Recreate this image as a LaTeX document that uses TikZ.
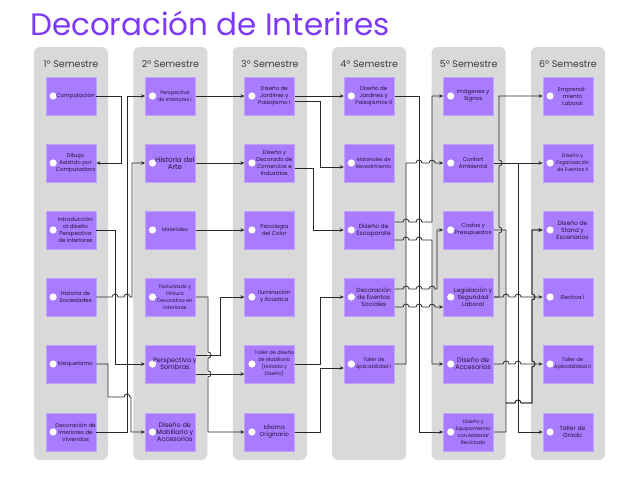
\documentclass[tikz,border=0pt]{standalone}
\usepackage{fontspec}
\setmainfont{Poppins}
\usetikzlibrary{arrows.meta}
\definecolor{titlec}{RGB}{124,58,246}
\definecolor{cardc}{RGB}{168,123,255}
\definecolor{cardb}{RGB}{192,162,255}
\definecolor{panelc}{RGB}{217,217,217}
\definecolor{linec}{RGB}{40,40,40}
\definecolor{txtc}{RGB}{35,20,55}
\definecolor{headc}{RGB}{60,60,60}
\newcommand\hopR[2]{-- ({#1-3},#2) arc[start angle=180,end angle=0,radius=3pt]}
\newcommand\hopD[2]{-- (#1,{#2-3}) arc[start angle=90,end angle=-90,radius=3pt]}
\newcommand\hopU[2]{-- (#1,{#2+3}) arc[start angle=-90,end angle=90,radius=3pt]}
\tikzset{
  panel/.style={fill=panelc, rounded corners=6pt, minimum width=74pt, minimum height=413pt, inner sep=0},
  head/.style={text=headc, font=\fontsize{9.5}{10}\selectfont, inner sep=0},
  card/.style={fill=cardc, draw=cardb, line width=0.8pt, minimum width=50pt, minimum height=38pt, inner sep=0},
  ctext/.style={text=txtc, align=center, inner sep=0},
  conn/.style={draw=linec, line width=0.8pt, -{Stealth[length=4pt,width=3.5pt]}},
}
% col, row, y, size, text
\newcommand\card[5]{%
  \node[card] (c#1#2) at ({71+99.4*(#1-1)},#3) {};
  \fill[white] ([xshift=7.5pt]c#1#2.west) circle (3.6pt);
  \node[ctext, font=\fontsize{#4}{7}\selectfont] (t#1#2) at ([xshift=4.5pt]c#1#2.center) {#5};
}
\begin{document}
\begin{tikzpicture}[x=1pt,y=-1pt]
\useasboundingbox (0,0) rectangle (640,480);
\fill[white] (0,0) rectangle (640,480);
\node[anchor=base west, text=titlec, font=\fontsize{31}{32}\selectfont, inner sep=0] (title) at (30,35) {Decoración de Interires};
\foreach \i in {1,...,6}{
  \node[panel] (p\i) at ({71+99.4*(\i-1)},253.5) {};
  \node[head] (h\i) at ({71+99.4*(\i-1)},64) {\i º Semestre};
}
% column 1
\card{1}{1}{96}{5.5}{Computación}
\card{1}{2}{163}{5.5}{Dibujo\\Asistido por\\Computadora}
\card{1}{3}{230}{5.5}{Introducción\\al diseño\\Perspectiva\\de Interiores}
\card{1}{4}{297}{5.5}{Historia de\\Sociedades}
\card{1}{5}{364}{5.5}{Maquetismo}
\card{1}{6}{432}{5.5}{Decoración de\\Interiores de\\Viviendas}
% column 2
\card{2}{1}{96}{5}{Perspectiva\\de Interiores I}
\card{2}{2}{163}{7}{Historia del\\Arte}
\card{2}{3}{230}{5}{Materiales}
\card{2}{4}{297}{5}{Texturizado y\\Pintura\\Decorativa en\\Interiores}
\card{2}{5}{364}{6.5}{Perspectiva y\\Sombras}
\card{2}{6}{432}{6.5}{Diseño de\\Mobiliario y\\Accesorios}
% column 3
\card{3}{1}{96}{5.5}{Diseño de\\Jardines y\\Paisajismo I}
\card{3}{2}{163}{5.5}{Diseño y\\Decorado de\\Comercios e\\Industrias}
\card{3}{3}{230}{5.5}{Psicología\\del Color}
\card{3}{4}{297}{5.5}{Iluminación\\y Acústica}
\card{3}{5}{364}{5}{Taller de diseño\\de Mobiliario\\(Historia y\\Diseño)}
\card{3}{6}{432}{6}{Idioma\\Originario}
% column 4
\card{4}{1}{96}{5.5}{Diseño de\\Jardines y\\Paisajismos II}
\card{4}{2}{163}{5}{Materiales de\\Revestimiento}
\card{4}{3}{230}{6}{Diseño de\\Escaparate}
\card{4}{4}{297}{6}{Decoración\\de Eventos\\Sociales}
\card{4}{5}{364}{5}{Taller de\\Aplicabilidad I}
% column 5
\card{5}{1}{96}{5.5}{Imágenes y\\Signos}
\card{5}{2}{163}{5.5}{Confort\\Ambiental}
\card{5}{3}{230}{5.5}{Costos y\\Presupuestos}
\card{5}{4}{297}{6}{Legislación y\\Seguridad\\Laboral}
\card{5}{5}{364}{6.5}{Diseño de\\Accesorios}
\card{5}{6}{432}{5}{Diseño y\\Equipamiento\\con \textit{Material}\\Reciclado}
% column 6
\card{6}{1}{96}{5.5}{Emprendi-\\miento\\Laboral}
\card{6}{2}{163}{5}{Diseño y\\Organización\\de Eventos II}
\card{6}{3}{230}{6}{Diseño de\\Stand y\\Escenarios}
\card{6}{4}{297}{5.5}{Electiva I}
\card{6}{5}{364}{5}{Taller de\\Aplicabilidad II}
\card{6}{6}{432}{6}{Taller de\\Grado}
% connectors col1 -> col2
\draw[conn] (c11.east) -- (121,96) -- (121,163) -- (c12.east);
\draw[conn] (c13.east) -- (115,230) -- (115,364) -- (c25.west);
\draw[conn] (c14.east) \hopR{115}{297} \hopR{127}{297} -- (132,297) -- (132,163) -- (c22.west);
\draw[conn] (c15.east) -- (108,364) -- (108,397) \hopR{127}{397} -- (131,397) -- (131,432) -- (c26.west);
\draw[conn] (c16.east) -- (127,432) -- (127,96) -- (c21.west);
% col2 -> col3
\draw[conn] (c21.east) -- (c31.west);
\draw[conn] (c22.east) -- (c32.west);
\draw[conn] (c23.east) -- (c33.west);
\draw[conn] (c24.east) -- (208,297) \hopD{208}{355} \hopD{208}{374} -- (208,432) -- (c36.west);
\draw[conn] ([yshift=9pt]c25.east) -- (220,355) -- (220,297) -- (c34.west);
\draw[conn] ([yshift=-10pt]c25.east) -- ([yshift=-10pt]c35.west);
% col3 -> col4
\draw[conn] (c31.east) -- (c41.west);
\draw[conn] ([yshift=-5pt]c31.east) -- (320,101) -- (320,167) -- ([yshift=-4pt]c42.west);
\draw[conn] ([yshift=-5pt]c32.east) -- (313,168) -- (313,230) -- (c43.west);
\draw[conn] (c35.east) -- (320,364) -- (320,297) -- (c44.west);
\draw[conn] (c36.east) -- (320,432) -- (320,368) -- ([yshift=-4pt]c45.west);
% col4 -> col5
\draw[conn] (c41.east) -- (419,96) -- (419,432) -- (c56.west);
\draw[conn] ([yshift=8pt]c43.east) \hopR{406}{222} \hopR{419}{222} -- (432,222) -- (432,96) -- (c51.west);
\draw[conn] ([yshift=-10pt]c43.east) \hopR{406}{240} \hopR{419}{240} -- (432,240) -- (432,364) -- (c55.west);
\draw[conn] ([yshift=8pt]c44.east) \hopR{406}{289} \hopR{419}{289} \hopR{432}{289} -- (437,289) -- (437,230) -- (c53.west);
\draw[conn] ([yshift=-10pt]c44.east) \hopR{406}{307} \hopR{419}{307} \hopR{432}{307} -- ([yshift=-10pt]c54.west);
\draw[conn] (c45.east) -- (406,364) -- (406,163) \hopR{419}{163} \hopR{432}{163} -- (c52.west);
% col5 -> col6
\draw[conn] (c52.east) -- (c62.west);
\draw[conn] (c52.east) -- (518,163) -- (518,432) -- (c66.west);
\draw[conn] (c54.east) -- (499,297) \hopU{499}{230} \hopU{499}{163} -- (499,96) -- (c61.west);
\draw[conn] (c54.east) \hopR{506}{297} \hopR{518}{297} -- (c64.west);
\draw[conn] (c53.east) -- (506,230) -- (506,403) \hopR{518}{403} -- (532,403) \hopU{532}{364} \hopU{532}{297} -- (532,230) -- (c63.west);
\draw[conn] (c55.east) \hopR{506}{364} \hopR{518}{364} -- (c65.west);
\draw[conn] (c56.east) -- (506,432) -- (506,403) \hopR{518}{403} -- (532,403) \hopU{532}{364} \hopU{532}{297} -- (532,230) -- (c63.west);
\end{tikzpicture}
\end{document}
